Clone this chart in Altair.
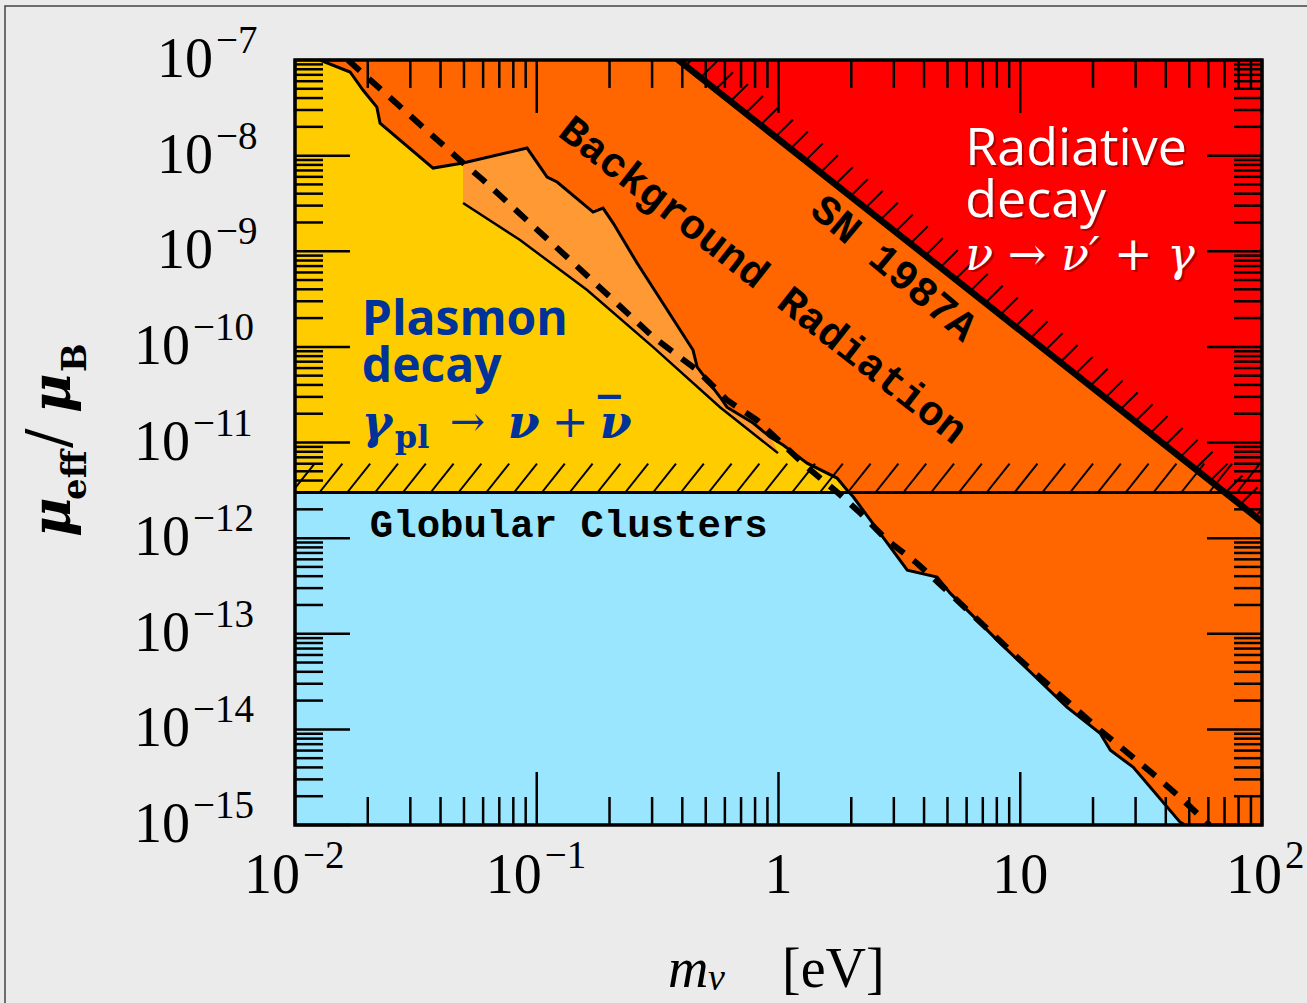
import altair as alt
import numpy as np
import pandas as pd

# ---------------- values ----------------
x_min, x_max = 0.01, 100.0          # m_nu [eV]
y_min, y_max = 1e-15, 1e-7          # mu_eff / mu_B

# solid boundary of the plasmon-decay / globular-cluster regions
boundary_mass = [0.01268, 0.0169, 0.0191, 0.0218, 0.02248, 0.03724, 0.04955, 0.0912,
                 0.1104, 0.1214, 0.171, 0.188, 0.207, 0.260, 0.443, 0.461, 0.573,
                 0.612, 0.785, 0.923, 1.045, 1.313, 1.746, 1.92, 2.04, 3.41, 4.53,
                 5.13, 8.26, 15.6, 21.4, 23.6, 29.3, 45.8, 48.1]
boundary_mu = [1e-7, 7.49e-8, 4.85e-8, 3.22e-8, 2.19e-8, 7.41e-9, 8.38e-9, 1.2e-8,
               5.97e-9, 5.3e-9, 2.57e-9, 2.83e-9, 1.97e-9, 7.53e-10, 9.27e-11,
               6.15e-11, 2.99e-11, 2.34e-11, 1.6e-11, 1.14e-11, 9.4e-12, 6.09e-12,
               4.25e-12, 3.18e-12, 2.69e-12, 4.62e-13, 3.91e-13, 2.66e-13, 7.98e-14,
               1.71e-14, 9.12e-15, 6.05e-15, 4.03e-15, 1.07e-15, 1e-15]

# lower edge of the light-orange band
band_lower_mass = [0.04955, 0.0853, 0.1615, 0.303, 0.573, 0.995]
band_lower_mu = [3.19e-9, 1.31e-9, 3.93e-10, 9.95e-11, 2.34e-11, 7.74e-12]
band_upper_limit = 0.95

# dashed curve
dash_mass = [0.01656, 0.0496, 0.06, 0.1334, 0.303, 0.461, 0.612, 0.815, 1.313, 1.746,
             2.18, 2.81, 3.74, 4.8, 10.0, 21.4, 36.8, 47.2, 59.3, 60.5]
dash_mu = [1e-7, 8.38e-9, 5.56e-9, 8.69e-10, 1.27e-10, 5.71e-11, 2.78e-11, 1.71e-11,
           5.53e-12, 3.03e-12, 1.83e-12, 9.53e-13, 5.47e-13, 3.07e-13, 5.3e-14,
           9.8e-15, 3.16e-15, 1.82e-15, 1.05e-15, 1e-15]

# SN 1987A line and globular-cluster bound
sn_mass = [0.385, 100.0]
sn_mu = [1e-7, 1.48e-12]
gc_mu = 3e-12
gc_cross_mass = 1.95

# axis ticks
x_major = [0.01, 0.1, 1.0, 10.0, 100.0]
y_exponents = list(range(-15, -6))

# ---------------- colours / fonts ----------------
ORANGE, RED, YELLOW, LIGHT, BLUE = "#FF6600", "#FF0000", "#FFCC00", "#FF9933", "#9AE6FF"
W, H = 967, 765
SERIF = "Liberation Serif"
MATH = "DejaVu Serif"
MONO = "Liberation Mono"
SANS = "Open Sans"

xs = alt.Scale(type="log", domain=[x_min, x_max], nice=False)
ys = alt.Scale(type="log", domain=[y_min, y_max], nice=False)


def X(f="m"):
    return alt.X(f"{f}:Q", scale=xs, axis=None)


def Y(f="mu"):
    return alt.Y(f"{f}:Q", scale=ys, axis=None)


def polygon(px, py, color):
    df = pd.DataFrame({"m": px, "mu": py, "i": list(range(len(px)))})
    return alt.Chart(df).mark_line(fill=color, stroke=color, strokeWidth=1,
                                   interpolate="linear").encode(
        x=X(), y=Y(), order="i:Q")


def line(px, py, **kw):
    df = pd.DataFrame({"m": px, "mu": py, "i": list(range(len(px)))})
    return alt.Chart(df).mark_line(color="black", **kw).encode(x=X(), y=Y(), order="i:Q")


layers = []

# outer frame of the picture (only top/left inside the image)
layers.append(alt.Chart(pd.DataFrame({"a": [0]})).mark_rect(
    fill="white", fillOpacity=0, stroke="#444444", strokeWidth=1.5).encode(
    x=alt.value(-290), x2=alt.value(1030), y=alt.value(-54), y2=alt.value(990)))

# regions
above = [(m, u) for m, u in zip(boundary_mass, boundary_mu) if u >= gc_mu]
below = [(m, u) for m, u in zip(boundary_mass, boundary_mu) if u < gc_mu]
band_up = [(m, u) for m, u in zip(boundary_mass, boundary_mu)
           if band_lower_mass[0] <= m <= band_upper_limit]

layers.append(polygon([sn_mass[0], x_max, sn_mass[1]], [y_max, y_max, sn_mu[1]], RED))
layers.append(polygon([x_min] + [a[0] for a in above] + [gc_cross_mass, x_min],
                      [y_max] + [a[1] for a in above] + [gc_mu, gc_mu], YELLOW))
layers.append(polygon([x_min, gc_cross_mass] + [b[0] for b in below] + [x_min],
                      [gc_mu, gc_mu] + [b[1] for b in below] + [y_min], BLUE))
layers.append(polygon([b[0] for b in band_up] + band_lower_mass[::-1],
                      [b[1] for b in band_up] + band_lower_mu[::-1], LIGHT))

# hatching above the globular-cluster bound
g_lx = np.arange(-2.014, 2.0, 0.115)
gdf = pd.DataFrame({"m": 10 ** g_lx, "mu": gc_mu,
                    "m2": 10 ** (g_lx + 0.095), "mu2": gc_mu * 10 ** 0.303})
layers.append(alt.Chart(gdf).mark_rule(color="black", strokeWidth=2, clip=True).encode(
    x=X(), y=Y(), x2="m2:Q", y2="mu2:Q"))

# hatching on the SN 1987A line
l0, l1 = np.log10(sn_mass)
u0, u1 = np.log10(sn_mu)
s_lx = np.arange(l0 + 0.03, 2.0, 0.062)
s_ly = u0 + (s_lx - l0) * (u1 - u0) / (l1 - l0)
sdf = pd.DataFrame({"m": 10 ** s_lx, "mu": 10 ** s_ly,
                    "m2": 10 ** (s_lx + 0.072), "mu2": 10 ** (s_ly + 0.18)})
layers.append(alt.Chart(sdf).mark_rule(color="black", strokeWidth=2, clip=True).encode(
    x=X(), y=Y(), x2="m2:Q", y2="mu2:Q"))

# boundary lines
layers.append(line(boundary_mass, boundary_mu, strokeWidth=3, clip=True))
layers.append(line(band_lower_mass, band_lower_mu, strokeWidth=2.5, clip=True))
layers.append(line([x_min, x_max], [gc_mu, gc_mu], strokeWidth=3, clip=True))
layers.append(line(dash_mass, dash_mu, strokeWidth=6, strokeDash=[16, 12], clip=True))
layers.append(line(sn_mass, sn_mu, strokeWidth=6.5, strokeCap="round", clip=True))

# inward ticks on all four sides
x_minor = [d * k for d in x_major[:-1] for k in range(2, 10)]
y_major = [10.0 ** e for e in y_exponents]
y_minor = [10.0 ** e * k for e in y_exponents[:-1] for k in range(2, 10)]
TW = 2.5
for vals, L in ((x_major, 53), (x_minor, 28)):
    d = pd.DataFrame({"m": vals})
    layers.append(alt.Chart(d).mark_rule(color="black", strokeWidth=TW).encode(
        x=X(), y=alt.value(H), y2=alt.value(H - L)))
    layers.append(alt.Chart(d).mark_rule(color="black", strokeWidth=TW).encode(
        x=X(), y=alt.value(0), y2=alt.value(L)))
for vals, L in ((y_major, 55), (y_minor, 28)):
    d = pd.DataFrame({"mu": vals})
    layers.append(alt.Chart(d).mark_rule(color="black", strokeWidth=TW).encode(
        y=Y(), x=alt.value(0), x2=alt.value(L)))
    layers.append(alt.Chart(d).mark_rule(color="black", strokeWidth=TW).encode(
        y=Y(), x=alt.value(W), x2=alt.value(W - L)))

# plot frame
layers.append(alt.Chart(pd.DataFrame({"a": [0]})).mark_rect(
    fill="white", fillOpacity=0, stroke="black", strokeWidth=3.5).encode(
    x=alt.value(0), x2=alt.value(W), y=alt.value(0), y2=alt.value(H)))


def dtext(m, mu, t, **kw):
    d = pd.DataFrame({"m": [m], "mu": [mu], "t": [t]})
    return alt.Chart(d).mark_text(**kw).encode(x=X(), y=Y(), text="t:N")


def ptext(px, py, t, **kw):
    d = pd.DataFrame({"t": [t]})
    return alt.Chart(d).mark_text(**kw).encode(x=alt.value(px), y=alt.value(py), text="t:N")


# region labels
layers.append(dtext(0.863, 5.0e-10, "Background Radiation", angle=38, font=MONO,
                    fontWeight="bold", fontSize=42, align="center", baseline="middle"))
layers.append(dtext(3.0, 6.67e-10, "SN 1987A", angle=40, font=MONO,
                    fontWeight="bold", fontSize=42, align="center", baseline="middle"))
layers.append(dtext(0.0204, 1.02e-12, "Globular Clusters", font=MONO, fontWeight="bold",
                    fontSize=39, align="left", baseline="alphabetic"))

BLUE_TXT = "#003399"
layers.append(dtext(0.0189, 1.33e-10, "Plasmon", font=SANS, fontWeight="bold", fontSize=48,
                    align="left", baseline="alphabetic", color=BLUE_TXT))
layers.append(dtext(0.0189, 4.28e-11, "decay", font=SANS, fontWeight="bold", fontSize=48,
                    align="left", baseline="alphabetic", color=BLUE_TXT))
pl_pieces = [("γ", 0, 0, 46, "bold", "italic"), ("pl", 33, 10, 32, "bold", "normal"),
             ("→", 88, -2, 42, "normal", "normal"), ("ν", 146, 0, 46, "bold", "italic"),
             ("+", 190, -1, 44, "normal", "normal"), ("ν", 238, 0, 46, "bold", "italic"),
             ("‾", 236, -8, 46, "bold", "normal")]
for t, dx, dy, fs, fw, fst in pl_pieces:
    layers.append(dtext(0.0189, 1.11e-11, t, font=MATH, fontSize=fs, fontWeight=fw,
                        fontStyle=fst, dx=dx, dy=dy, align="left", baseline="alphabetic",
                        color=BLUE_TXT))

for mu, t, font, fs, fst in ((7.98e-9, "Radiative", SANS, 52, "normal"),
                             (2.28e-9, "decay", SANS, 52, "normal"),
                             (6.35e-10, "ν → ν′ + γ", MATH, 46, "italic")):
    layers.append(dtext(5.92, mu, t, font=font, fontSize=fs, fontStyle=fst, dx=2, dy=2,
                        align="left", baseline="alphabetic", color="#7A0000", opacity=0.6))
    layers.append(dtext(5.92, mu, t, font=font, fontSize=fs, fontStyle=fst,
                        align="left", baseline="alphabetic", color="white"))

# tick labels (10 + exponent)
for exps, right in (([-9, -8, -7], -82), ([-15, -14, -13, -12, -11, -10], -105)):
    d = pd.DataFrame({"mu": [10.0 ** e for e in exps],
                      "t": ["10"] * len(exps),
                      "e": ["−" + str(-e) for e in exps]})
    layers.append(alt.Chart(d).mark_text(font=SERIF, fontSize=56, align="right",
                                         baseline="alphabetic", dy=17).encode(
        y=Y(), x=alt.value(right), text="t:N"))
    layers.append(alt.Chart(d).mark_text(font=SERIF, fontSize=39, align="left",
                                         baseline="alphabetic", dy=-7).encode(
        y=Y(), x=alt.value(right + 3), text="e:N"))

for vals, exps, off in (([0.01, 0.1], ["−2", "−1"], 5), ([100.0], ["2"], 20)):
    d = pd.DataFrame({"m": vals, "t": ["10"] * len(vals), "e": exps})
    layers.append(alt.Chart(d).mark_text(font=SERIF, fontSize=56, align="right",
                                         baseline="alphabetic", dx=off).encode(
        x=X(), y=alt.value(833), text="t:N"))
    layers.append(alt.Chart(d).mark_text(font=SERIF, fontSize=39, align="left",
                                         baseline="alphabetic", dx=off + 3).encode(
        x=X(), y=alt.value(808), text="e:N"))
d = pd.DataFrame({"m": [1.0, 10.0], "t": ["1", "10"]})
layers.append(alt.Chart(d).mark_text(font=SERIF, fontSize=56, align="center",
                                     baseline="alphabetic").encode(
    x=X(), y=alt.value(833), text="t:N"))

# axis titles
layers.append(ptext(373, 910, "m", font=SERIF, fontSize=56, fontStyle="italic", align="left"))
layers.append(ptext(413, 919, "ν", font=SERIF, fontSize=38, fontStyle="italic", align="left"))
layers.append(ptext(487, 910, "[eV]", font=SERIF, fontSize=56, align="left"))

for t, px, py, fs, fw, fst in (("μ", -225, 477, 54, "bold", "italic"),
                               ("eff", -209, 440, 34, "bold", "normal"),
                               ("/", -227, 388, 58, "normal", "normal"),
                               ("μ", -225, 353, 54, "bold", "italic"),
                               ("B", -209, 312, 34, "bold", "normal")):
    layers.append(ptext(px, py, t, font=MATH, fontSize=fs, fontWeight=fw, fontStyle=fst,
                        angle=270, align="left", baseline="alphabetic"))

chart = alt.layer(*layers).properties(
    width=W, height=H,
    padding={"left": 295, "top": 60, "right": 45, "bottom": 178},
    autosize=alt.AutoSizeParams(type="none"),
).configure(background="#EBEBEB").configure_view(strokeWidth=0, fill=ORANGE)

chart.save("out.html", embed_options={"renderer": "svg", "actions": False})
